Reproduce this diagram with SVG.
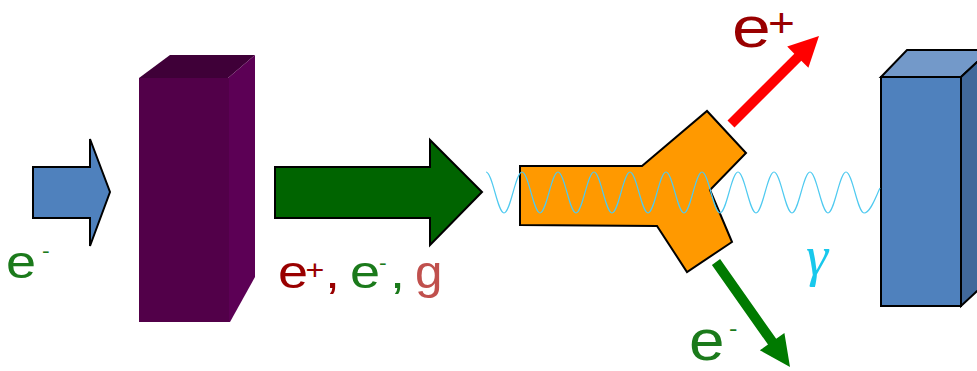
<svg xmlns="http://www.w3.org/2000/svg" width="977" height="371" viewBox="0 0 977 371">
<style>
.lbl{font-family:"Liberation Sans",Arial,sans-serif;}
.pos{fill:#990000;}
.ele{fill:#1b7a1b;}
.gam{fill:#c0504d;}
.edge{stroke:#000;stroke-width:2;stroke-linejoin:miter;}
</style>
<rect width="977" height="371" fill="#fff"/>
<g id="beam-in">
<polygon class="edge" fill="#4f81bd" points="33,167 90,167 90,139 110,192 90,246 90,218 33,218"/>
<text class="lbl ele" font-size="47" transform="translate(6,278) scale(1.15,1)">e</text>
<text class="lbl ele" font-size="20" transform="translate(42,258) scale(1.15,1)">-</text>
</g>
<g id="target">
<polygon fill="#3f0038" points="139,78 170,55 255,55 228,78"/>
<polygon fill="#5c0055" points="228,78 255,55 255,277 230,322 228,322"/>
<rect x="139" y="78" width="90" height="244" fill="#520049"/>
</g>
<g id="secondary-beam">
<polygon class="edge" fill="#006400" points="275,167 430,167 430,140 482,192 430,245 430,218 275,218"/>
<text class="lbl pos" font-size="47" transform="translate(278,288) scale(1.15,1)">e</text>
<text class="lbl pos" font-size="28" transform="translate(305.5,279) scale(1.15,1)">+</text>
<text class="lbl pos" font-size="47" transform="translate(325,288) scale(1.15,1)">,</text>
<text class="lbl ele" font-size="47" transform="translate(350,288) scale(1.15,1)">e</text>
<text class="lbl ele" font-size="20" transform="translate(379,270) scale(1.15,1)">-</text>
<text class="lbl ele" font-size="47" transform="translate(390,288) scale(1.15,1)">,</text>
<text class="lbl gam" font-size="47" transform="translate(415,288) scale(1.05,1)">g</text>
</g>
<g id="converter">
<polygon class="edge" fill="#ff9900" points="520,166 642,166 707,111 746,153 710,190 732,242 687,272 657,226 520,225"/>
</g>
<g id="detector">
<polygon class="edge" fill="#7399c9" points="881,77 907,50 990,50 961,77"/>
<polygon class="edge" fill="#41689a" points="961,77 990,50 990,279 961,306"/>
<rect class="edge" x="881" y="77" width="80" height="229" fill="#4f81bd"/>
</g>
<g id="connectors">
<path fill="none" stroke="#4fcaf0" stroke-width="1.2" d="M486,172 C492.5,172 497.5,213 504,213 S515.5,172 522,172 S533.5,213 540,213 S551.5,172 558,172 S569.5,213 576,213 S587.5,172 594,172 S605.5,213 612,213 S623.5,172 630,172 S641.5,213 648,213 S659.5,172 666,172 S677.5,213 684,213 S695.5,172 702,172 S713.5,213 720,213 S731.5,172 738,172 S749.5,213 756,213 S767.5,172 774,172 S785.5,213 792,213 S803.5,172 810,172 S821.5,213 828,213 S839.5,172 846,172 S857.5,213 864,213 S876,196 880,188"/>
<polygon fill="#ff0000" points="727.5,120.5 794.3,53.7 787.2,46.6 819,36 808.4,67.8 801.3,60.7 734.5,127.5"/>
<polygon fill="#007a00" points="720.1,259.1 776.2,338.8 784.4,333.1 790,367 759.8,350.3 768,344.6 711.9,264.9"/>
</g>
<g id="labels">
<text class="lbl pos" font-size="58" transform="translate(732,47) scale(1.2,1)">e</text>
<text class="lbl pos" font-size="40" transform="translate(768,37) scale(1.15,1)">+</text>
<text class="lbl ele" font-size="58" transform="translate(689,360) scale(1.1,1)">e</text>
<text class="lbl ele" font-size="22" transform="translate(729,336) scale(1.15,1)">-</text>
<text x="806" y="275" font-family="Liberation Serif,serif" font-style="italic" font-size="56" fill="#18c8ec">γ</text>
</g>
</svg>
